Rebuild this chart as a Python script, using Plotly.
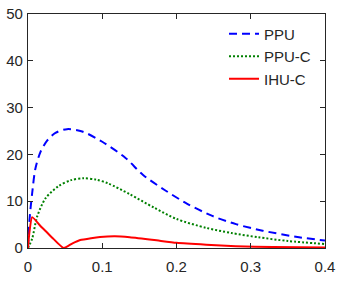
import plotly.graph_objects as go

# PPU (blue dashed)
ppu_x = [0, 0.002, 0.0056, 0.01, 0.017, 0.026, 0.037, 0.0525, 0.073, 0.1, 0.131, 0.155, 0.184, 0.215, 0.249, 0.28, 0.316, 0.365, 0.4]
ppu_y = [0, 6, 11.7, 17, 20.6, 23, 24.6, 25.4, 24.9, 22.7, 19.3, 15.6, 12.4, 9.4, 6.8, 5.1, 3.7, 2.3, 1.6]

# PPU-C (green dotted)
ppuc_x = [0, 0.0056, 0.0123, 0.0235, 0.041, 0.058, 0.075, 0.092, 0.108, 0.137, 0.17, 0.2, 0.24, 0.274, 0.31, 0.35, 0.4]
ppuc_y = [0, 2, 6.7, 10.6, 13.2, 14.5, 14.9, 14.6, 13.8, 11.5, 8.6, 6.2, 4.3, 3.2, 2.3, 1.5, 0.85]

# IHU-C (red solid)
ihuc_x = [0, 0.002, 0.0056, 0.0168, 0.0257, 0.0346, 0.048, 0.06, 0.0704, 0.085, 0.097, 0.117, 0.137, 0.17, 0.2, 0.24, 0.28, 0.33, 0.4]
ihuc_y = [0, 3.5, 6.6, 4.7, 3.3, 1.9, 0, 1.0, 1.7, 2.1, 2.35, 2.5, 2.3, 1.7, 1.1, 0.7, 0.4, 0.2, 0.1]

x_ticks = [0, 0.1, 0.2, 0.3, 0.4]
x_tick_labels = ["0", "0.1", "0.2", "0.3", "0.4"]
y_ticks = [0, 10, 20, 30, 40, 50]

fig = go.Figure()
fig.add_trace(go.Scatter(x=ppu_x, y=ppu_y, mode="lines", name="PPU", legendgroup="a",
                         line=dict(color="#0000FF", width=2, dash="8px,5px", shape="spline", smoothing=0.8)))
fig.add_trace(go.Scatter(x=ppuc_x, y=ppuc_y, mode="lines", name="PPU-C", legendgroup="b",
                         line=dict(color="#008000", width=2, dash="2px,2px", shape="spline", smoothing=0.8)))
fig.add_trace(go.Scatter(x=ihuc_x, y=ihuc_y, mode="lines", name="IHU-C", legendgroup="c",
                         line=dict(color="#FF0000", width=2, shape="spline", smoothing=0.5)))

axis_common = dict(showgrid=False, zeroline=False, showline=True, linecolor="#262626", linewidth=1.2,
                   mirror="ticks", ticks="inside", ticklen=5, tickwidth=1.2, tickcolor="#262626",
                   automargin=False,
                   tickfont=dict(family="Liberation Sans, Arial, sans-serif", size=15, color="#262626"))

fig.update_layout(
    width=341, height=290,
    margin=dict(l=27.5, r=16, t=14, b=42),
    paper_bgcolor="white", plot_bgcolor="white",
    xaxis=dict(range=[0, 0.4], tickvals=x_ticks, ticktext=x_tick_labels, ticklabelstandoff=5, **axis_common),
    yaxis=dict(range=[0, 50], tickvals=y_ticks, ticklabelstandoff=1, **axis_common),
    legend=dict(x=0.66, y=0.985, xanchor="left", yanchor="top", bgcolor="rgba(0,0,0,0)",
                font=dict(family="Liberation Sans, Arial, sans-serif", size=15, color="#262626"),
                traceorder="grouped", tracegroupgap=0, itemwidth=30),
    showlegend=True,
)

fig.write_html("out.html", config={"displayModeBar": False},
               post_script="document.body.style.margin='0';document.body.style.overflow='hidden';")
